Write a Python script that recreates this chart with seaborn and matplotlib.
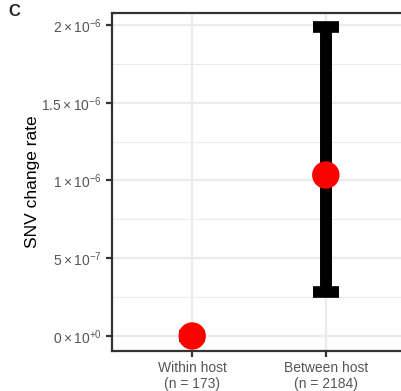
import matplotlib
matplotlib.use("Agg")
import matplotlib.pyplot as plt
import seaborn as sns
import pandas as pd
import numpy as np
from matplotlib.ticker import FixedLocator

categories = ["Within host\n(n = 173)", "Between host\n(n = 2184)"]
rate = [0.0, 1.035e-6]
lower = [0.0, 0.283e-6]
upper = [0.0, 1.987e-6]
ytick_vals = [0.0, 5e-7, 1e-6, 1.5e-6, 2e-6]
ytick_labels = [r"$0\times10^{+0}$", r"$5\times10^{-7}$", r"$1\times10^{-6}$",
                r"$1.5\times10^{-6}$", r"$2\times10^{-6}$"]

sns.set_theme(style="white")
plt.rcParams['font.family'] = ['Liberation Sans', 'DejaVu Sans']
plt.rcParams['mathtext.fontset'] = 'custom'
plt.rcParams['mathtext.rm'] = 'Liberation Sans'
plt.rcParams['mathtext.it'] = 'Liberation Sans'

df = pd.DataFrame({"cat": categories, "rate": rate, "lo": lower, "hi": upper})
df["x"] = np.arange(len(df))

W, H = 402, 391
fig = plt.figure(figsize=(W / 100, H / 100), dpi=100)
left, right, top, bottom = 112, 406, 13, 351
ax = fig.add_axes([left / W, 1 - bottom / H, (right - left) / W, (bottom - top) / H])

ax.set_xlim(-0.6, 1.6)
ax.set_ylim(-0.0965e-6, 2.077e-6)

# grid
for v in ytick_vals:
    ax.axhline(v, color="#ebebeb", lw=1.6, zorder=0)
for v in [2.5e-7, 7.5e-7, 1.25e-6, 1.75e-6]:
    ax.axhline(v, color="#ebebeb", lw=0.8, zorder=0)
for v in df["x"]:
    ax.axvline(v, color="#ebebeb", lw=1.6, zorder=0)

ax.errorbar(df["x"], df["rate"],
            yerr=[df["rate"] - df["lo"], df["hi"] - df["rate"]],
            fmt="none", ecolor="black", elinewidth=8.6, capsize=9.6, capthick=8.4, zorder=2)
sns.scatterplot(data=df, x="x", y="rate", color="red", s=390, edgecolor="none",
                ax=ax, zorder=3, legend=False)

ax.yaxis.set_major_locator(FixedLocator(ytick_vals))
ax.set_yticklabels(ytick_labels)
ax.set_xticks(df["x"])
ax.set_xticklabels(df["cat"], linespacing=1.1)
ax.tick_params(axis="both", colors="#333333", labelcolor="#555555", labelsize=10,
               length=4.5, width=1.6, direction="out", left=True, bottom=True)
ax.tick_params(axis="x", pad=3)
ax.tick_params(axis="y", pad=3)
ax.set_xlabel("")
ax.set_ylabel("SNV change rate", fontsize=12.5, color="black", labelpad=1)
for s in ax.spines.values():
    s.set_color("#333333")
    s.set_linewidth(1.6)
ax.spines["right"].set_visible(False)

fig.text(8 / W, 1 - 12 / H, "C", fontsize=12, fontweight="bold", va="center", ha="left")

fig.savefig("out.png", dpi=100)
